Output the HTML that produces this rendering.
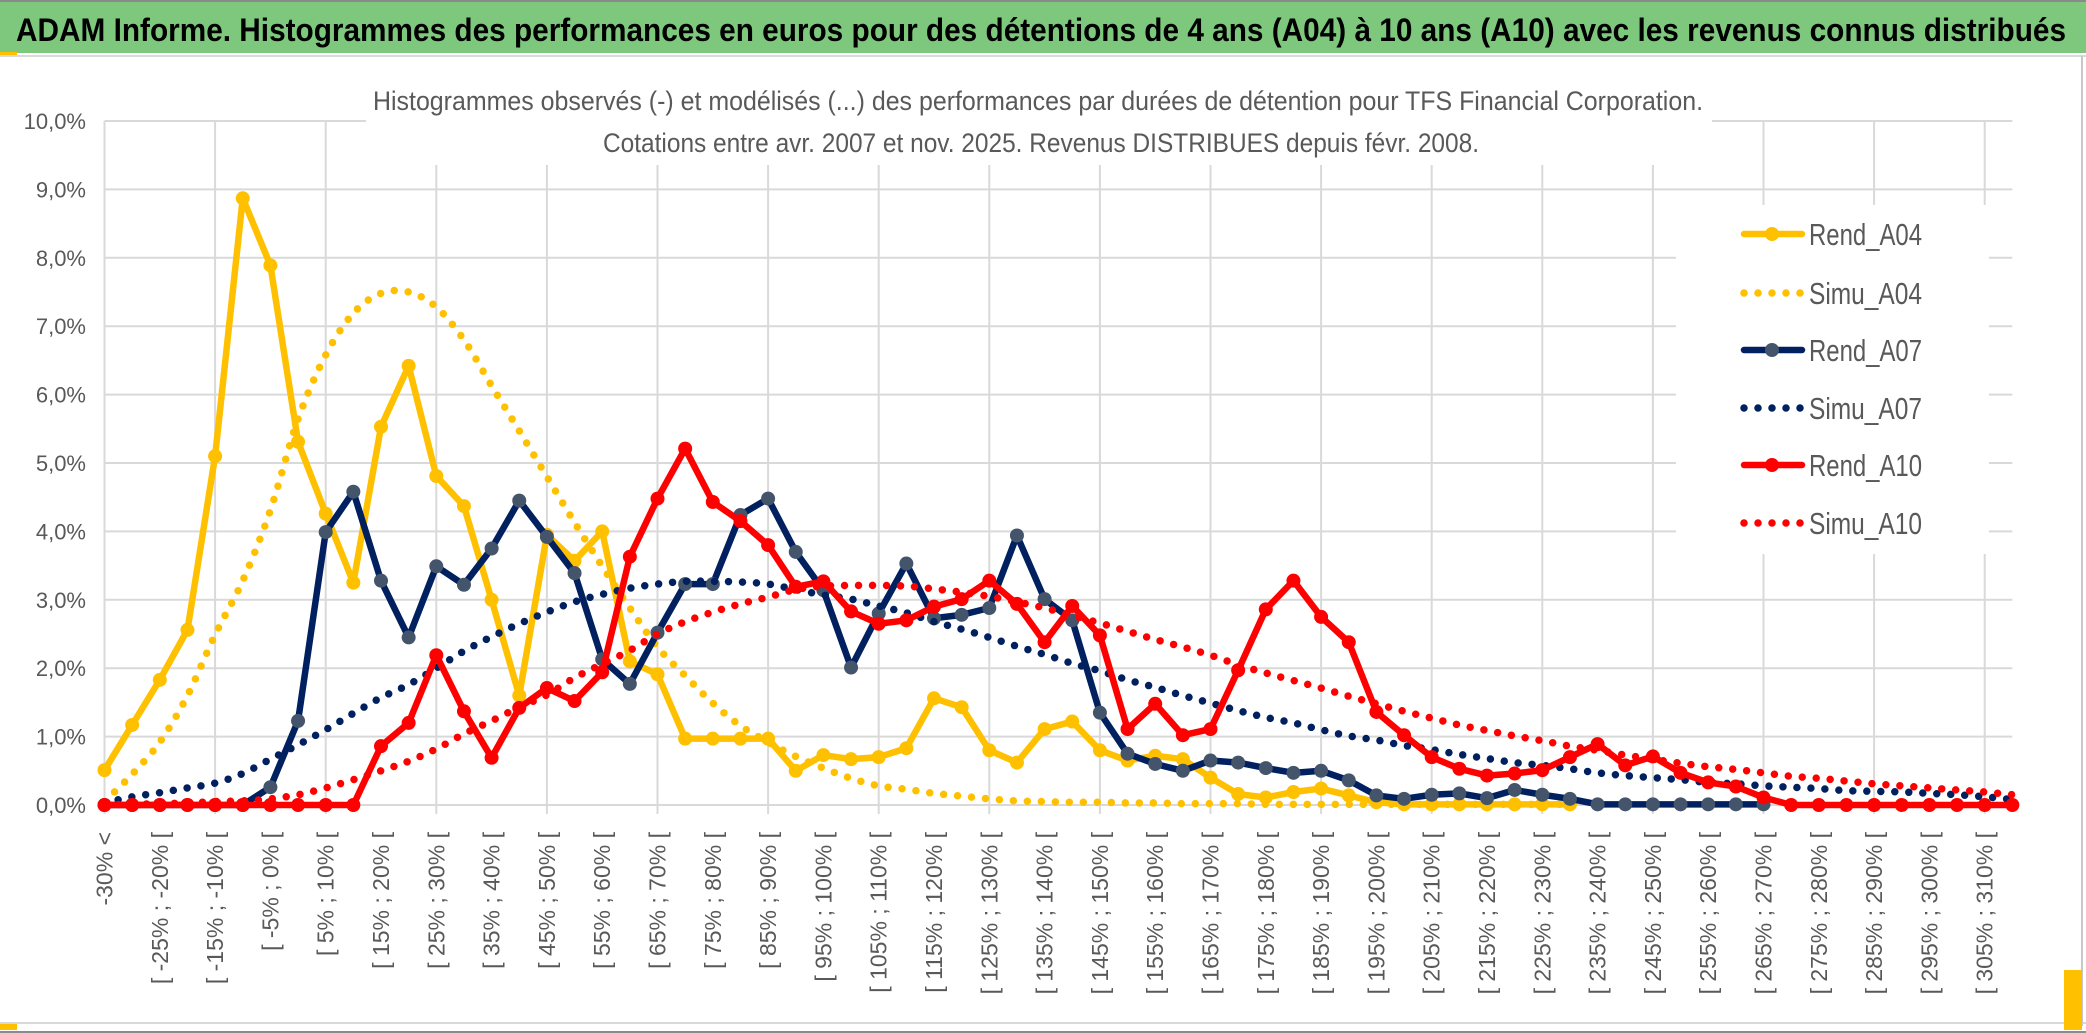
<!DOCTYPE html>
<html><head><meta charset="utf-8">
<style>
html,body{margin:0;padding:0;background:#fff;}
svg{display:block;}
text{font-family:"Liberation Sans Narrow","Liberation Sans",sans-serif;}
</style></head>
<body>
<svg id="chart" width="2086" height="1033" viewBox="0 0 2086 1033" xmlns="http://www.w3.org/2000/svg">
  <rect x="0" y="0" width="2086" height="1033" fill="#fff"/>
  <rect x="0" y="0" width="2086" height="2" fill="#8a8a8a"/>
  <rect x="0" y="2" width="2086" height="51" fill="#7DC87D"/>
  <rect x="0" y="52" width="17" height="4" fill="#FFC000"/>
  <rect x="0" y="55" width="2086" height="2" fill="#d9d9d9"/>
  <text x="16" y="41" font-size="32" font-weight="bold" fill="#000" textLength="2050" lengthAdjust="spacingAndGlyphs">ADAM Informe. Histogrammes des performances en euros pour des détentions de 4 ans (A04) à 10 ans (A10) avec les revenus connus distribués</text>
  <rect x="0" y="1022" width="2086" height="2" fill="#d9d9d9"/>
  <rect x="0" y="1024" width="17" height="6" fill="#FFC000"/>
  <rect x="0" y="1031" width="2086" height="2" fill="#8a8a8a"/>
  <rect x="2081" y="56" width="2" height="970" fill="#c8c8c8"/>
  <rect x="2064" y="970" width="18" height="60" fill="#FFC000"/>
  <g id="grid"></g>
  <g id="ylabels"></g>
  <g id="xlabels"></g>
  <rect x="366" y="58" width="1346" height="107" fill="#fff"/>
  <text x="373" y="110" font-size="27" fill="#595959" textLength="1330" lengthAdjust="spacingAndGlyphs">Histogrammes observés (-) et modélisés (...) des performances par durées de détention pour TFS Financial Corporation.</text>
  <text x="603" y="152" font-size="27" fill="#595959" textLength="876" lengthAdjust="spacingAndGlyphs">Cotations entre avr. 2007 et nov. 2025. Revenus DISTRIBUES depuis févr. 2008.</text>
  <rect x="1676" y="205" width="313" height="349" fill="#fff"/>
  <g id="series"></g>
  <g id="legend"></g>
</svg>
<script>
const categoryCount = 70;
const yTicks = [0,1,2,3,4,5,6,7,8,9,10];
const yTickLabels = ["0,0%","1,0%","2,0%","3,0%","4,0%","5,0%","6,0%","7,0%","8,0%","9,0%","10,0%"];
const categoryLows = [];
for (let k = 0; k < categoryCount; k++) categoryLows.push(-35 + 5 * k);
const rendA04 = [0.51,1.17,1.83,2.56,5.1,8.87,7.89,5.31,4.26,3.25,
 5.53,6.42,4.81,4.37,3.0,1.6,3.95,3.57,4.0,2.1,
 1.91,0.97,0.97,0.97,0.97,0.5,0.73,0.67,0.7,0.83,
 1.56,1.43,0.8,0.62,1.11,1.22,0.8,0.65,0.72,0.67,
 0.4,0.16,0.11,0.19,0.24,0.14,0.04,0.01,0.01,0.01,
 0.01,0.01,0.01,0.01];
const simuA04 = [0.05,0.45,0.92,1.6,2.49,3.28,4.31,5.64,6.58,7.19,
 7.48,7.5,7.28,6.8,6.13,5.47,4.8,4.13,3.49,2.88,
 2.31,1.89,1.49,1.16,0.92,0.71,0.54,0.39,0.28,0.23,
 0.17,0.13,0.09,0.06,0.05,0.04,0.04,0.03,0.03,0.02,
 0.02,0.02,0.01,0.01,0.01,0.01,0.01,0.01,0.01,0.01,
 0.01,0.01,0.01,0.01];
const rendA07 = [0,0,0,0,0,0,0.26,1.23,3.99,4.58,
 3.28,2.45,3.49,3.22,3.75,4.45,3.92,3.39,2.13,1.77,
 2.52,3.23,3.23,4.24,4.48,3.7,3.14,2.01,2.8,3.53,
 2.73,2.78,2.88,3.94,3.01,2.7,1.35,0.75,0.6,0.5,
 0.65,0.62,0.54,0.47,0.5,0.36,0.14,0.09,0.15,0.17,
 0.1,0.22,0.15,0.09,0.01,0.01,0.01,0.01,0.01,0.01,0.01];
const simuA07 = [0.03,0.12,0.18,0.25,0.32,0.46,0.67,0.88,1.1,1.34,
 1.57,1.76,2.0,2.25,2.46,2.65,2.82,2.97,3.08,3.17,
 3.23,3.27,3.27,3.26,3.23,3.15,3.07,3.01,2.91,2.81,
 2.68,2.57,2.45,2.32,2.2,2.07,1.96,1.83,1.72,1.6,
 1.49,1.38,1.28,1.2,1.1,1.01,0.95,0.87,0.81,0.74,
 0.68,0.62,0.58,0.53,0.47,0.43,0.4,0.37,0.33,0.31,
 0.28,0.26,0.24,0.21,0.2,0.19,0.17,0.15,0.12,0.08];
const rendA10 = [0,0,0,0,0,0,0,0,0,0,
 0.86,1.2,2.19,1.37,0.69,1.42,1.71,1.52,1.94,3.63,
 4.48,5.21,4.43,4.15,3.8,3.19,3.27,2.83,2.65,2.7,
 2.9,3.01,3.28,2.94,2.38,2.91,2.48,1.11,1.48,1.02,
 1.11,1.97,2.86,3.28,2.75,2.38,1.36,1.02,0.7,0.53,
 0.43,0.46,0.51,0.7,0.89,0.58,0.71,0.47,0.33,0.27,
 0.11,0,0,0,0,0,0,0,0,0];
const simuA10 = [0,0.01,0.02,0.03,0.05,0.06,0.09,0.15,0.25,0.37,
 0.5,0.64,0.82,1.04,1.23,1.43,1.61,1.86,2.06,2.26,
 2.5,2.68,2.82,2.94,3.04,3.15,3.2,3.21,3.21,3.2,
 3.16,3.11,3.05,2.97,2.88,2.77,2.66,2.54,2.42,2.31,
 2.19,2.05,1.93,1.82,1.71,1.59,1.48,1.37,1.27,1.17,
 1.09,1.01,0.94,0.86,0.8,0.73,0.67,0.61,0.56,0.52,
 0.47,0.42,0.39,0.35,0.31,0.28,0.25,0.22,0.19,0.15];
const seriesNames = ["Rend_A04","Simu_A04","Rend_A07","Simu_A07","Rend_A10","Simu_A10"];

const NS = "http://www.w3.org/2000/svg";
const X0 = 104.5, XSTEP = 27.65, Y0 = 805, YUNIT = 68.4;
function xScale(i){ return X0 + i * XSTEP; }
function yScale(v){ return Y0 - v * YUNIT; }
function mk(tag, attrs, parent){
  const e = document.createElementNS(NS, tag);
  for (const k in attrs) e.setAttribute(k, attrs[k]);
  parent.appendChild(e);
  return e;
}
const grid = document.getElementById('grid');
const xEnd = xScale(categoryCount - 1);
yTicks.forEach((t) => {
  const l = mk('line', {x1: X0, x2: xEnd, y1: yScale(t), y2: yScale(t), stroke: '#d9d9d9', 'stroke-width': 2}, grid);
  
  
});
for (let i = 0; i < categoryCount; i += 4) {
  const l = mk('line', {x1: xScale(i), x2: xScale(i), y1: yScale(10), y2: Y0 + 9, stroke: '#d9d9d9', 'stroke-width': 2}, grid);
  
  
}
const yl = document.getElementById('ylabels');
yTicks.forEach((t, k) => {
  const tx = mk('text', {x: 86, y: yScale(t) + 8, 'font-size': 22, fill: '#595959', 'text-anchor': 'end'}, yl);
  tx.textContent = yTickLabels[k];
  
  
});
const xl = document.getElementById('xlabels');
for (let i = 0; i < categoryCount; i += 2) {
  let s;
  if (i === 0) s = "-30% <";
  else s = "[ " + categoryLows[i] + "% ; " + (categoryLows[i] + 5) + "% [";
  const cx = xScale(i) + 8, cy = 832;
  const tx = mk('text', {x: cx, y: cy, 'font-size': 23, fill: '#595959', 'text-anchor': 'end', transform: 'rotate(-90 ' + cx + ' ' + cy + ')', style: 'font-family:"Liberation Sans",sans-serif'}, xl);
  tx.textContent = s;
  
  
}
function smoothPath(vals){
  const p = vals.map((v, i) => [xScale(i), yScale(v)]);
  let d = 'M' + p[0][0] + ',' + p[0][1];
  for (let i = 0; i < p.length - 1; i++) {
    const p0 = p[Math.max(0, i - 1)], p1 = p[i], p2 = p[i + 1], p3 = p[Math.min(p.length - 1, i + 2)];
    const c1x = p1[0] + (p2[0] - p0[0]) / 6, c1y = p1[1] + (p2[1] - p0[1]) / 6;
    const c2x = p2[0] - (p3[0] - p1[0]) / 6, c2y = p2[1] - (p3[1] - p1[1]) / 6;
    d += ' C' + c1x + ',' + c1y + ' ' + c2x + ',' + c2y + ' ' + p2[0] + ',' + p2[1];
  }
  return d;
}
const layer = document.getElementById('series');
function drawRend(vals, color, markerColor, name){
  const g = mk('g', {}, layer);
  
  
  const pts = vals.map((v, i) => xScale(i) + ',' + yScale(v)).join(' ');
  const pl = mk('polyline', {points: pts, fill: 'none', stroke: color, 'stroke-width': 6.5, 'stroke-linejoin': 'round', 'stroke-linecap': 'round'}, g);
  
  
  vals.forEach((v, i) => {
    const c = mk('circle', {cx: xScale(i), cy: yScale(v), r: 7, fill: markerColor}, g);
    
    
  });
}
function drawSimu(vals, color, name){
  const p = mk('path', {d: smoothPath(vals), fill: 'none', stroke: color, 'stroke-width': 7.5, 'stroke-linecap': 'round', 'stroke-dasharray': '0 14'}, layer);
  
  
}
drawRend(rendA04, '#FFC000', '#FFC000', 'rend-a04');
drawSimu(simuA04, '#FFC000', 'simu-a04');
drawRend(rendA07, '#002060', '#44546A', 'rend-a07');
drawSimu(simuA07, '#002060', 'simu-a07');
drawRend(rendA10, '#FF0000', '#FF0000', 'rend-a10');
drawSimu(simuA10, '#FF0000', 'simu-a10');

const legend = document.getElementById('legend');
const legColors = ['#FFC000','#FFC000','#002060','#002060','#FF0000','#FF0000'];
const legMarkers = ['#FFC000',null,'#44546A',null,'#FF0000',null];
const legY = [234, 293, 350, 408, 465, 523];
seriesNames.forEach((nm, k) => {
  const g = mk('g', {}, legend);
  
  
  const y = legY[k];
  if (legMarkers[k]) {
    mk('line', {x1: 1744, x2: 1802, y1: y, y2: y, stroke: legColors[k], 'stroke-width': 6.5, 'stroke-linecap': 'round'}, g);
    mk('circle', {cx: 1772, cy: y, r: 7, fill: legMarkers[k]}, g);
  } else {
    mk('line', {x1: 1744, x2: 1802, y1: y, y2: y, stroke: legColors[k], 'stroke-width': 7.5, 'stroke-linecap': 'round', 'stroke-dasharray': '0 14'}, g);
  }
  const t = mk('text', {x: 1809, y: y + 11, 'font-size': 31, fill: '#595959', textLength: 113, lengthAdjust: 'spacingAndGlyphs'}, g);
  t.textContent = nm;
});
</script>
</body></html>
